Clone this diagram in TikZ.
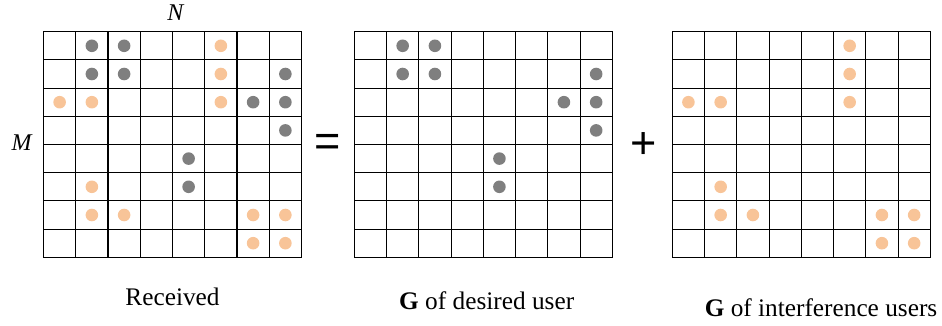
\documentclass[tikz,border=0pt]{standalone}
\usepackage{fontspec}
\setmainfont{Liberation Serif}
\newfontfamily\opfont{Liberation Sans}
\definecolor{dgray}{HTML}{7F7F7F}
\definecolor{dorange}{HTML}{F8C498}
\begin{document}
\begin{tikzpicture}[x=1pt,y=-1pt,
  gridline/.style={line width=1.1pt, black},
  gridbox/.style={draw, line width=1.1pt, minimum width=258pt, minimum height=225.6pt, inner sep=0pt, outer sep=0pt, anchor=north west},
  gdot/.style={circle, fill=dgray, inner sep=0pt, minimum size=12.6pt},
  odot/.style={circle, fill=dorange, inner sep=0pt, minimum size=12.6pt},
  lbl/.style={font=\fontsize{25.3}{30}\selectfont, anchor=base, inner sep=0pt},
  varlbl/.style={font=\fontsize{24}{28}\selectfont\itshape, anchor=base, inner sep=0pt},
  oplbl/.style={font=\opfont\fontsize{45}{50}\selectfont, anchor=base, inner sep=0pt}]
\useasboundingbox (0,0) rectangle (942,326);
\def\W{32.25}
\def\H{28.2}
\def\Y{31.7}
% grids
\foreach \gx/\nm in {43.5/a, 354.3/b, 672.3/c} {
  \node[gridbox] (grid\nm) at (\gx,\Y) {};
  \foreach \k in {1,...,7} {
    \draw[gridline] ({\gx+\k*\W},\Y) -- ({\gx+\k*\W},{\Y+8*\H});
    \draw[gridline] (\gx,{\Y+\k*\H}) -- ({\gx+8*\W},{\Y+\k*\H});
  }
}
% desired-user (gray) dots in grids a and b
\foreach \gx/\nm in {43.5/a, 354.3/b} {
  \foreach \r/\c in {1/2,1/3,2/2,2/3,2/8,3/7,3/8,4/8,5/5,6/5} {
    \node[gdot] (g\nm\r\c) at ({\gx+(\c-0.5)*\W},{\Y+(\r-0.5)*\H}) {};
  }
}
% interference (orange) dots in grids a and c
\foreach \gx/\nm in {43.5/a, 672.3/c} {
  \foreach \r/\c in {1/6,2/6,3/1,3/2,3/6,6/2,7/2,7/3,7/7,7/8,8/7,8/8} {
    \node[odot] (o\nm\r\c) at ({\gx+(\c-0.5)*\W},{\Y+(\r-0.5)*\H}) {};
  }
}
% labels
\node[varlbl] (labN) at (175.5,20.7) {N};
\node[varlbl] (labM) at (21.7,150) {M};
\node[oplbl] (eq) at (328,156.7) {=};
\node[oplbl] (plus) at (643.7,158.3) {+};
\node[lbl] (recv) at (172.5,305) {Received};
\node[lbl] (des) at (486.7,309.3) {\textbf{G} of desired user};
\node[lbl] (intf) at (821,316.7) {\textbf{G} of interference users};
\end{tikzpicture}
\end{document}
